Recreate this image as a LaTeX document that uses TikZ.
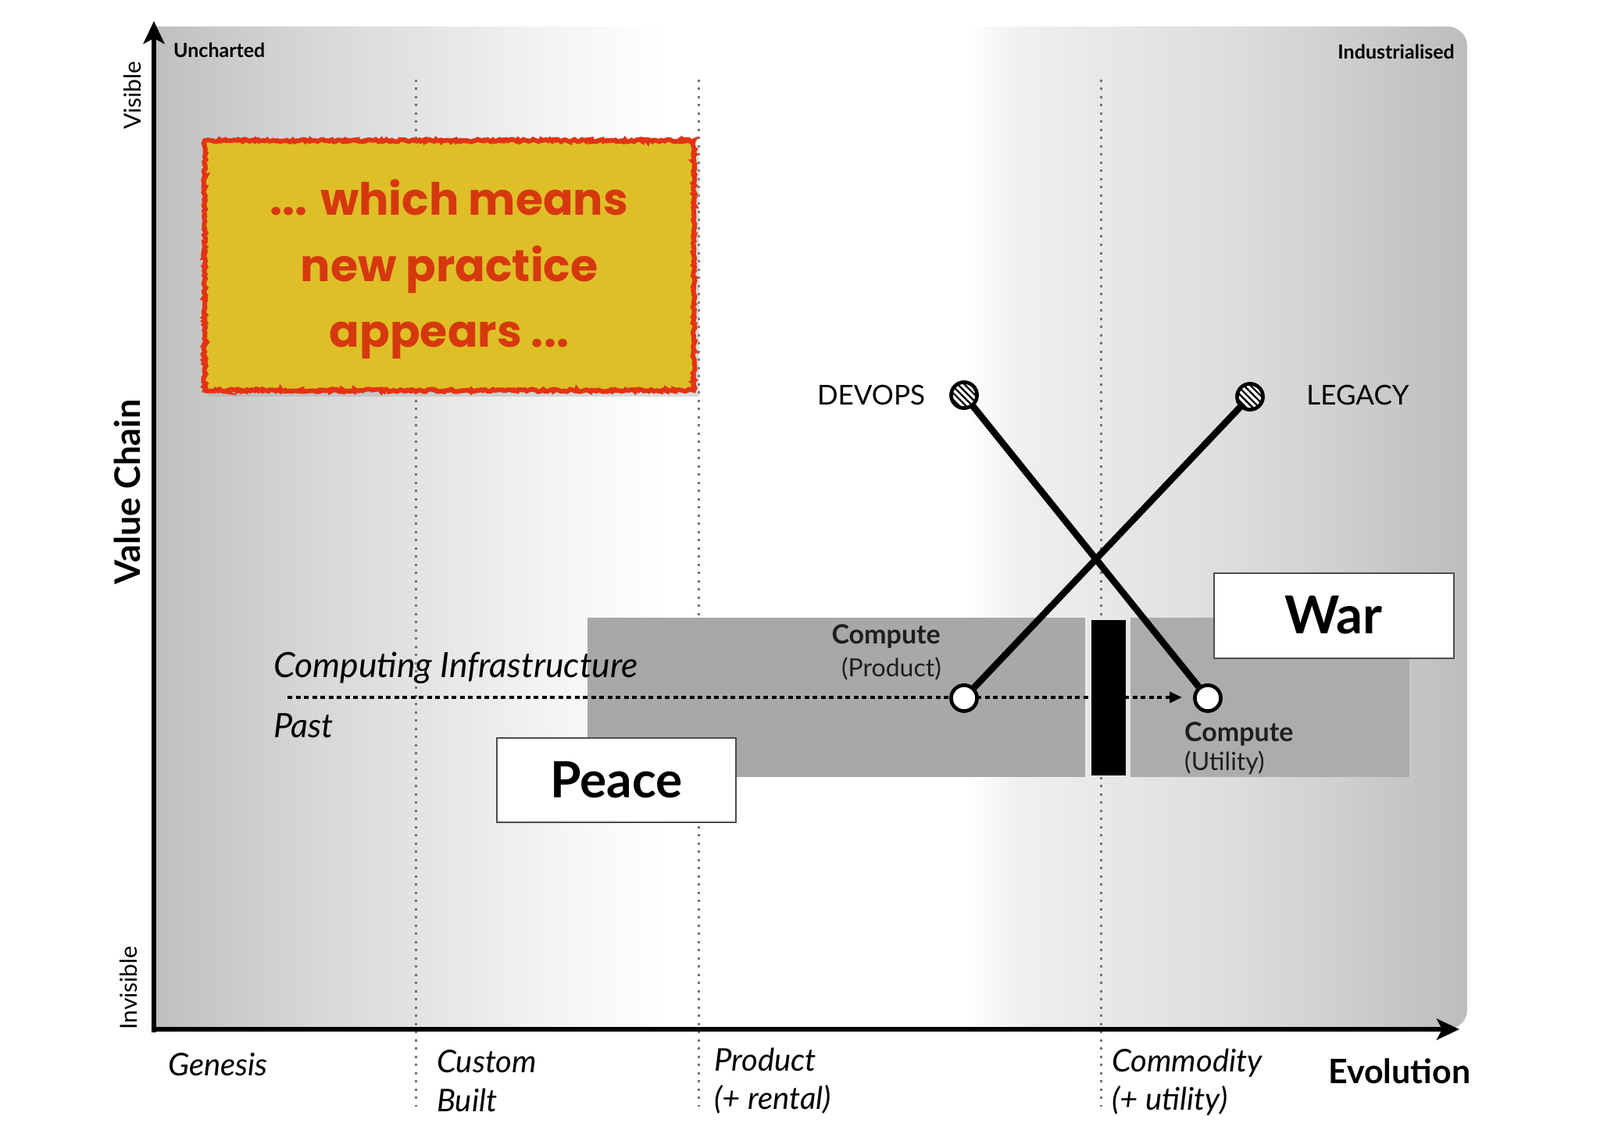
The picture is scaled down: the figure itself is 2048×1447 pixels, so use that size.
\documentclass[tikz,border=0pt]{standalone}
\usepackage{fontspec}
\setmainfont{Lato}
\newfontfamily\comicfont{Poppins}
\usetikzlibrary{arrows.meta,patterns.meta,decorations.pathmorphing}

\definecolor{cgrayL}{RGB}{168,167,170}
\definecolor{cgrayR}{RGB}{172,172,174}
\definecolor{yel}{RGB}{222,191,40}
\definecolor{redborder}{RGB}{226,52,20}
\definecolor{redtext}{RGB}{214,56,14}
\definecolor{darktext}{RGB}{30,30,30}

\pgfdeclarehorizontalshading{panelshade}{100bp}{%
 color(0bp)=(black!25); color(25bp)=(black!25); color(30.8bp)=(black!16);
 color(35bp)=(black!11); color(40.5bp)=(black!4); color(44.4bp)=(white);
 color(56bp)=(white); color(58bp)=(black!6); color(61bp)=(black!9);
 color(65.8bp)=(black!13); color(69.6bp)=(black!18); color(75bp)=(black!26);
 color(100bp)=(black!26)}

\tikzset{
  dotline/.style={draw=black!55, line width=3pt, dash pattern=on 3pt off 7.5pt},
  axisline/.style={line width=6.5pt, -{Stealth[length=29pt,width=27pt,inset=7pt]}},
  labelbox/.style={draw=black!70, line width=2pt, fill=white, inner sep=0pt,
    font=\fontsize{64}{74}\selectfont\bfseries},
  comp/.style={circle, draw=black, line width=4.5pt, minimum size=33pt, inner sep=0pt},
  hatched/.style={comp, preaction={fill=white},
    pattern={Lines[angle=-45,distance=6pt,line width=2.3pt]}},
  conn/.style={line width=8.5pt, draw=black},
  dasharrow/.style={line width=3.5pt, dash pattern=on 6pt off 4.5pt,
    -{Triangle[length=16pt,width=14pt]}},
  evo/.style={font=\fontsize{40}{48}\selectfont\itshape, inner sep=0pt},
  small/.style={font=\fontsize{25}{30}\selectfont\bfseries, inner sep=0pt},
  axislab/.style={font=\fontsize{30}{34}\selectfont, inner sep=0pt, rotate=90},
  comptxt/.style={font=\fontsize{34}{40}\selectfont\bfseries, text=darktext, inner sep=0pt},
  compsub/.style={font=\fontsize{32}{38}\selectfont, text=darktext, inner sep=0pt},
  practice/.style={font=\fontsize{35}{40}\selectfont, inner sep=0pt},
  comic/.style={font=\comicfont\bfseries\fontsize{57}{68}\selectfont, text=redtext, inner sep=0pt},
  yellowbox/.style={fill=yel, draw=redborder, line width=6pt, decorate,
    decoration={random steps, segment length=2.5pt, amplitude=1.6pt}, inner sep=0pt},
}

\begin{document}
\begin{tikzpicture}[x=1pt,y=-1pt]
\useasboundingbox (0,0) rectangle (2048,1447);
\fill[white] (0,0) rectangle (2048,1447);

% background panel
\begin{scope}
  \clip[rounded corners=25pt] (150,34) rectangle (1878,1318);
  \shade[shading=panelshade] (197,34) rectangle (1878,1318);
\end{scope}

% stage dividers
\draw[dotline] (532,102) -- (532,1417);
\draw[dotline] (894,102) -- (894,1417);
\draw[dotline] (1409,102) -- (1409,1417);

% peace / war zones
\fill[cgrayL] (752,791) rectangle (1389,995);
\fill[cgrayR] (1447,791) rectangle (1804,995);
\fill[black] (1397,794) rectangle (1441,993);

% yellow callout
\fill[black!35, opacity=0.4] (267,186) rectangle (895,508);
\node[yellowbox, minimum width=626pt, minimum height=320pt] (ybox) at (575,340) {};
\node[comic, anchor=base] (c1) at (575,276) {... which means};
\node[comic, anchor=base] (c2) at (575,360) {new practice};
\node[comic, anchor=base] (c3) at (575,444) {appears ...};

% boxes
\node[labelbox, minimum width=306pt, minimum height=108pt] (peace) at (789,999) {Peace};
\node[labelbox, minimum width=307pt, minimum height=109pt, font=\fontsize{67}{76}\selectfont\bfseries] (war) at (1707,788) {War};

% dashed evolution arrow
\coordinate (pstart) at (368,893);
\coordinate (pend) at (1513,893);
\draw[dasharrow] (pstart) -- (pend);

% components
\node[comp, fill=white] (prod) at (1234,894) {};
\node[comp, fill=white] (util) at (1546,894) {};
\node[hatched] (devops) at (1234,506) {};
\node[hatched] (legacy) at (1600,508) {};
\draw[conn] (devops) -- (util);
\draw[conn] (legacy) -- (prod);
\node[comp, fill=white] at (prod) {};
\node[comp, fill=white] at (util) {};
\node[hatched] at (devops) {};
\node[hatched] at (legacy) {};

% axes
\coordinate (ybot) at (197,1321.5);
\coordinate (ytip) at (197,27);
\coordinate (xleft) at (194,1318);
\coordinate (xtip) at (1868,1318);
\draw[axisline] (ybot) -- (ytip);
\draw[axisline] (xleft) -- (xtip);

% corner labels
\node[small, anchor=base west] (unch) at (222,74) {Uncharted};
\node[small, anchor=base east] (indu) at (1862,76) {Industrialised};

% y axis labels
\node[axislab] (vis) at (170,122) {Visible};
\node[axislab, font=\fontsize{45}{52}\selectfont\bfseries] (vc) at (163,630) {Value Chain};
\node[axislab] (invis) at (165,1265) {Invisible};

% x axis labels
\node[evo, anchor=base west] (gen) at (215,1377) {Genesis};
\node[evo, anchor=base west] (cus1) at (559,1373) {Custom};
\node[evo, anchor=base west] (cus2) at (559,1423) {Built};
\node[evo, anchor=base west] (pro1) at (914,1371) {Product};
\node[evo, anchor=base west] (pro2) at (914,1420) {(+ rental)};
\node[evo, anchor=base west] (com1) at (1423,1372) {Commodity};
\node[evo, anchor=base west] (com2) at (1423,1421) {(+ utility)};
\node[anchor=base west, inner sep=0pt, font=\fontsize{43}{50}\selectfont\bfseries] (evol) at (1700,1387) {Evolution};

% value chain labels
\node[evo, font=\fontsize{44.5}{52}\selectfont\itshape, anchor=base west] (ci) at (350,867) {Computing Infrastructure};
\node[evo, font=\fontsize{43}{52}\selectfont\itshape, anchor=base west] (past) at (350,944) {Past};

% component labels
\node[practice] (devopsl) at (1115,506) {DEVOPS};
\node[practice] (legacyl) at (1738,506) {LEGACY};
\node[comptxt, anchor=base east] (cp1) at (1204,824) {Compute};
\node[compsub, anchor=base east] (cp2) at (1205,866) {(Product)};
\node[comptxt, anchor=base west] (cu1) at (1516,949) {Compute};
\node[compsub, anchor=base west] (cu2) at (1516,986) {(Utility)};
\end{tikzpicture}
\end{document}
